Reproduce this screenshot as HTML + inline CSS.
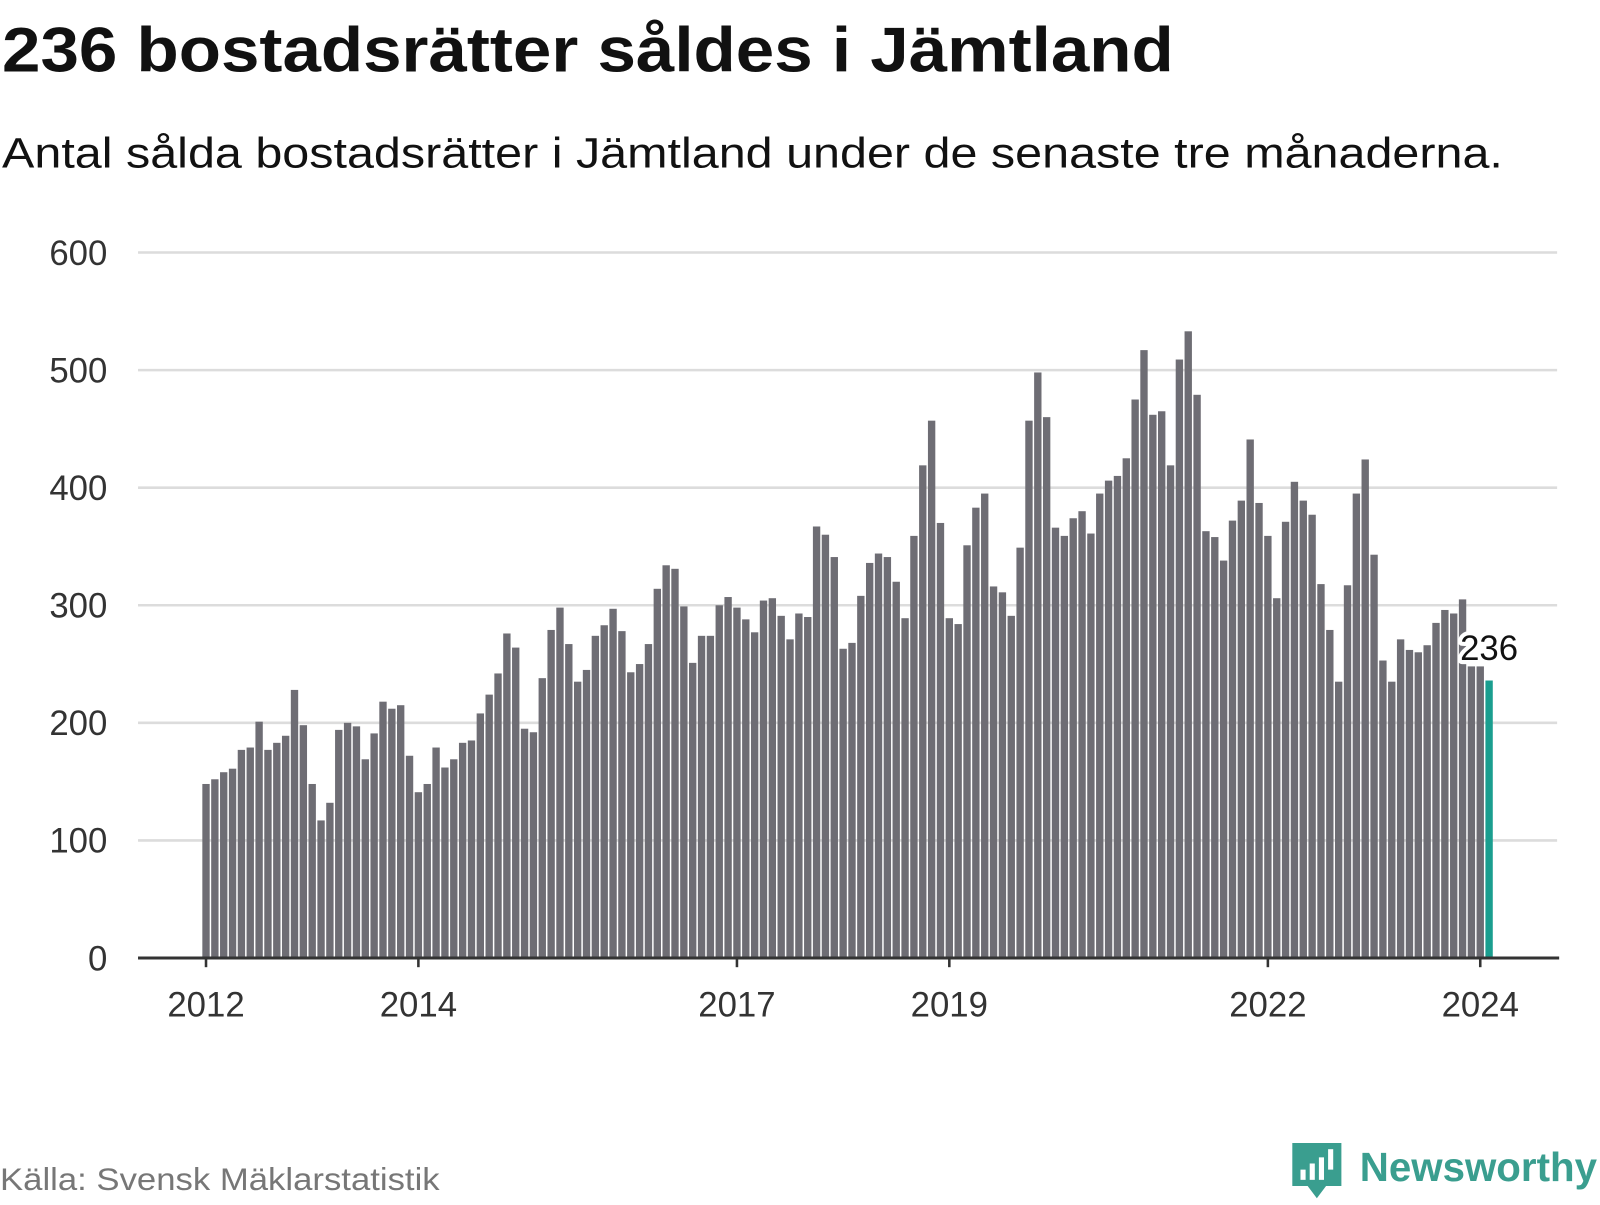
<!DOCTYPE html>
<html><head><meta charset="utf-8"><style>
body{margin:0;background:#fff;width:1600px;height:1200px;overflow:hidden;font-family:"Liberation Sans",sans-serif}
</style></head><body>
<svg id="chart" width="1600" height="1200" xmlns="http://www.w3.org/2000/svg" font-family="Liberation Sans, DejaVu Sans, sans-serif">
<g transform="scale(1.0224)">
<text x="2" y="70" font-size="62" font-weight="bold" fill="#111" textLength="1146" lengthAdjust="spacingAndGlyphs">236 bostadsrätter såldes i Jämtland</text>
<text x="2" y="164" font-size="42" fill="#111" textLength="1468" lengthAdjust="spacingAndGlyphs">Antal sålda bostadsrätter i Jämtland under de senaste tre månaderna.</text>
<g id="grid"></g><g id="bars"></g><g id="axes"></g>
<text x="0" y="1164" font-size="31" fill="#777" textLength="430" lengthAdjust="spacingAndGlyphs">Källa: Svensk Mäklarstatistik</text>
<g>
<path d="M1264 1118 h48 v42 h-15 l-9 12 l-9 -12 h-15 z" fill="#3a9e8f"/>
<rect x="1272" y="1144" width="5" height="10" fill="#fff"/><rect x="1281" y="1138" width="5" height="16" fill="#fff"/><rect x="1290" y="1132" width="5" height="22" fill="#fff"/><rect x="1299" y="1124" width="5" height="20" fill="#fff"/>
<text x="1330" y="1155" font-size="40" font-weight="bold" fill="#3a9e8f" textLength="232" lengthAdjust="spacingAndGlyphs">Newsworthy</text>
</g>
</g>
</svg>
<script>
const values=[148,152,158,161,177,179,201,177,183,189,228,198,
148,117,132,194,200,197,169,191,218,212,215,172,
141,148,179,162,169,183,185,208,224,242,276,264,
195,192,238,279,298,267,235,245,274,283,297,278,
243,250,267,314,334,331,299,251,274,274,300,307,
298,288,277,304,306,291,271,293,290,367,360,341,
263,268,308,336,344,341,320,289,359,419,457,370,
289,284,351,383,395,316,311,291,349,457,498,460,
366,359,374,380,361,395,406,410,425,475,517,462,
465,419,509,533,479,363,358,338,372,389,441,387,
359,306,371,405,389,377,318,279,235,317,395,424,
343,253,235,271,262,260,266,285,296,293,305,248,
248,236];
const yTicks=[0,100,200,300,400,500,600];
const xTickLabels=["2012","2014","2017","2019","2022","2024"];
const xTickIndex=[0,24,60,84,120,144];
const NS="http://www.w3.org/2000/svg";
const y0=937,yPer=1.15,x0=201.5,step=8.655,bw=7.2;
const ys=v=>y0-v*yPer, xs=i=>x0+i*step;
function mk(t,a,p){const e=document.createElementNS(NS,t);for(const k in a)e.setAttribute(k,a[k]);p.appendChild(e);return e;}
const grid=document.getElementById('grid'),bars=document.getElementById('bars'),axes=document.getElementById('axes');
yTicks.forEach(v=>{
 if(v>0){const l=mk('line',{x1:135,x2:1523,y1:ys(v),y2:ys(v),stroke:'#dcdcdc','stroke-width':2.5},grid);
 
 }
 const t=mk('text',{x:105,y:ys(v)+12,'text-anchor':'end','font-size':34,fill:'#333'},grid);
 t.textContent=v;
 
 
});
values.forEach((v,i)=>{
 const last=i===values.length-1;
 const r=mk('rect',{x:xs(i)-bw/2,y:ys(v),width:bw,height:v*yPer,fill:last?'#1a9e8f':'#6e6d74'},bars);
 
 
});
const ax=mk('line',{x1:135,x2:1525,y1:y0,y2:y0,stroke:'#333','stroke-width':3},axes);


xTickIndex.forEach((idx,k)=>{
 const x=xs(idx);
 const tk=mk('line',{x1:x,x2:x,y1:y0,y2:y0+9,stroke:'#333','stroke-width':2.5},axes);
 
 
 const t=mk('text',{x:x,y:994,'text-anchor':'middle','font-size':34,fill:'#333'},axes);
 t.textContent=xTickLabels[k];
 
 
});
const li=values.length-1;
const lbl=mk('text',{x:xs(li),y:ys(values[li])-20,'text-anchor':'middle','font-size':34,fill:'#111',stroke:'#fff','stroke-width':8,'paint-order':'stroke','stroke-linejoin':'round'},axes);
lbl.textContent=values[li];


</script>
</body></html>
